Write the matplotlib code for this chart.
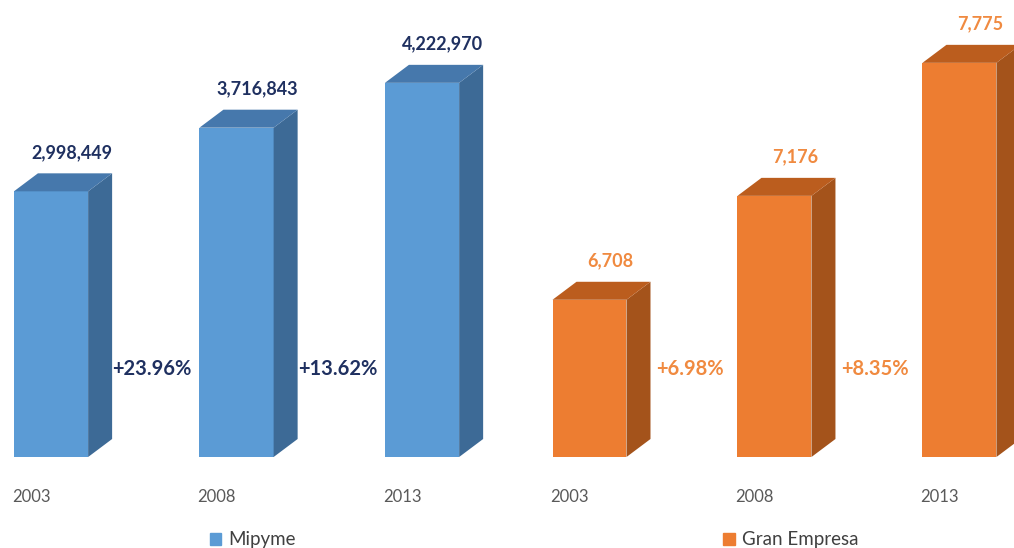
import matplotlib
matplotlib.use("Agg")
import matplotlib.pyplot as plt
import matplotlib.transforms as mtransforms
from matplotlib.patches import Polygon, Patch

plt.rcParams['font.family'] = ['Lato', 'DejaVu Sans']

years = ["2003", "2008", "2013"]
mipyme = [2998449, 3716843, 4222970]
gran_empresa = [6708, 7176, 7775]

W, H = 1014, 548
fig = plt.figure(figsize=(W / 100, H / 100), dpi=100)

BAR_W = 0.4
DEPTH_PX = (24, 18)


def draw_panel(ax, values, ymin, ymax, xlim, front, top, side, label_col):
    ax.set_xlim(*xlim)
    ax.set_ylim(ymin, ymax)
    ax.axis("off")

    # pixel depth -> data units
    bb = ax.get_window_extent()
    dx = DEPTH_PX[0] * (xlim[1] - xlim[0]) / bb.width
    dy = DEPTH_PX[1] * (ymax - ymin) / bb.height

    xs = range(len(values))
    ax.bar(xs, [v - ymin for v in values], bottom=ymin, width=BAR_W,
           color=front, linewidth=0, zorder=2)
    for x, v in zip(xs, values):
        x0, x1 = x - BAR_W / 2, x + BAR_W / 2
        ax.add_patch(Polygon([(x1, ymin), (x1, v), (x1 + dx, v + dy), (x1 + dx, ymin + dy)],
                             closed=True, color=side, lw=0, zorder=2, clip_on=False))
        ax.add_patch(Polygon([(x0, v), (x1, v), (x1 + dx, v + dy), (x0 + dx, v + dy)],
                             closed=True, color=top, lw=0, zorder=2, clip_on=False))
        ax.annotate(f"{v:,}", xy=(x + dx * 0.85, v + dy), xytext=(0, 21),
                    textcoords="offset pixels", ha="center", va="center",
                    fontsize=13, fontweight="bold", color=label_col, annotation_clip=False)
        ax.annotate(years[x], xy=(x0, ymin), xytext=(-2, -40), textcoords="offset pixels",
                    ha="left", va="center", fontsize=12, color="#595959",
                    annotation_clip=False)

    # growth between consecutive years
    trans = mtransforms.blended_transform_factory(ax.transData, ax.transAxes)
    for i in range(len(values) - 1):
        pct = (values[i + 1] / values[i] - 1) * 100
        ax.text(i + 0.545, 0.193, f"+{pct:.2f}%", transform=trans, ha="center",
                va="center", fontsize=14.5, fontweight="bold", color=label_col)


ax1 = fig.add_axes([0, 91 / H, 507 / W, 457 / H])
ax2 = fig.add_axes([507 / W, 91 / H, 507 / W, 457 / H])

draw_panel(ax1, mipyme, 0, 5.158e6, (-0.275, 2.458),
           "#5B9BD5", "#4678AC", "#3D6A96", "#1F3060")
draw_panel(ax2, gran_empresa, 6000, 8058, (-0.446, 2.295),
           "#ED7D31", "#BB5D1E", "#A4531B", "#F08A40")

for color, label, cx in [("#5B9BD5", "Mipyme", 253), ("#ED7D31", "Gran Empresa", 791)]:
    fig.legend(handles=[Patch(color=color, label=label)], loc="center",
               bbox_to_anchor=(cx / W, 1 - 540 / H), frameon=False, fontsize=13.5,
               handlelength=0.6, handleheight=0.6, handletextpad=0.4,
               labelcolor="#404040")

fig.savefig("out.png", dpi=100)
